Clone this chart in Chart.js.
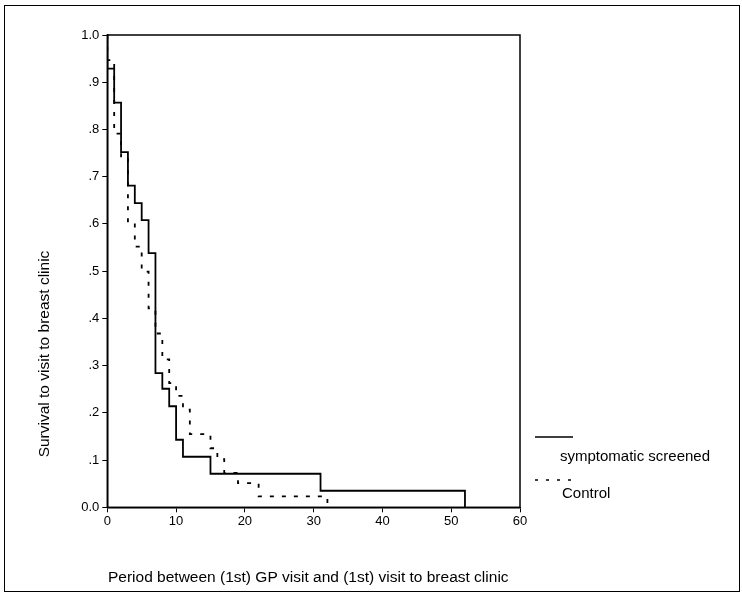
<!DOCTYPE html>
<html>
<head>
<meta charset="utf-8">
<script src="https://cdn.jsdelivr.net/npm/chart.js@4"></script>
<style>
  html, body { margin: 0; padding: 0; background: #fff; }
  #wrap { width: 742px; height: 596px; }
</style>
</head>
<body>
<div id="wrap"><canvas id="chart" width="742" height="596"></canvas></div>
<script>
// Kaplan-Meier step points: [time, survival] at each drop
const screenedTimes = [ 0, 0, 1, 2, 3, 4, 5, 6, 7, 8, 9, 10, 11, 15, 31, 52 ]
const screenedSurv  = [ 1, 0.929, 0.857, 0.752, 0.681, 0.644, 0.608, 0.538, 0.284, 0.251, 0.214, 0.143, 0.107, 0.071, 0.035, 0 ]

const controlTimes = [ 0, 0, 1, 2, 3, 4, 5, 6, 7, 8, 9, 10, 11, 12, 15, 16, 17, 19, 22, 32 ]
const controlSurv  = [ 1, 0.947, 0.791, 0.739, 0.603, 0.552, 0.499, 0.421, 0.368, 0.313, 0.263, 0.236, 0.207, 0.155, 0.125, 0.102, 0.073, 0.051, 0.023, 0 ]

const xTicks = [ 0, 10, 20, 30, 40, 50, 60 ]
const yTicks = [ 0, 0.1, 0.2, 0.3, 0.4, 0.5, 0.6, 0.7, 0.8, 0.9, 1.0 ]

const seriesNames = [ 'symptomatic screened', 'Control' ]
const xTitle = 'Period between (1st) GP visit and (1st) visit to breast clinic'
const yTitle = 'Survival to visit to breast clinic'

const FONT = '"Liberation Sans", Arial, sans-serif'

const toPoints = ( xs, ys ) => xs.map( ( x, i ) => ( { x: x, y: ys[ i ] } ) )

const extras = {
  id: 'extras',
  afterDraw( chart ) {
    const ctx = chart.ctx
    const a = chart.chartArea
    ctx.save()
    ctx.strokeStyle = '#000'
    ctx.fillStyle = '#000'

    // plot box
    ctx.lineWidth = 1.5
    ctx.strokeRect( a.left, a.top, a.right - a.left, a.bottom - a.top )

    // outer frame
    ctx.lineWidth = 1
    ctx.strokeRect( 4.5, 5.5, 735, 586 )

    // axis titles
    ctx.font = '15.5px ' + FONT
    ctx.textBaseline = 'middle'
    ctx.textAlign = 'left'
    ctx.fillText( xTitle, 108, 578 )

    ctx.save()
    ctx.translate( 45, 354 )
    ctx.rotate( -Math.PI / 2 )
    ctx.textAlign = 'center'
    ctx.fillText( yTitle, 0, 0 )
    ctx.restore()

    // legend
    ctx.lineWidth = 1.5
    ctx.beginPath()
    ctx.moveTo( 535, 437 )
    ctx.lineTo( 573, 437 )
    ctx.stroke()
    ctx.setLineDash( [ 3, 8 ] )
    ctx.beginPath()
    ctx.moveTo( 535, 480 )
    ctx.lineTo( 575, 480 )
    ctx.stroke()
    ctx.setLineDash( [] )
    ctx.font = '15px ' + FONT
    ctx.fillText( seriesNames[ 0 ], 560, 457 )
    ctx.fillText( seriesNames[ 1 ], 562, 494 )

    ctx.restore()
  }
}

new Chart( document.getElementById( 'chart' ), {
  type: 'scatter',
  data: {
    datasets: [
      {
        label: seriesNames[ 0 ],
        data: toPoints( screenedTimes, screenedSurv ),
        showLine: true,
        stepped: 'before',
        borderColor: '#000',
        borderWidth: 1.8,
        pointRadius: 0,
        fill: false
      },
      {
        label: seriesNames[ 1 ],
        data: toPoints( controlTimes, controlSurv ),
        showLine: true,
        stepped: 'before',
        borderColor: '#000',
        borderWidth: 1.8,
        borderDash: [ 4, 8 ],
        pointRadius: 0,
        fill: false
      }
    ]
  },
  options: {
    responsive: false,
    animation: false,
    devicePixelRatio: 1,
    layout: { padding: { left: 0, top: 35, right: 222, bottom: 0 } },
    plugins: {
      legend: { display: false },
      tooltip: { enabled: false }
    },
    scales: {
      x: {
        type: 'linear',
        min: 0,
        max: 60,
        afterBuildTicks: s => { s.ticks = xTicks.map( v => ( { value: v } ) ) },
        afterFit: s => { s.height = 88.7 },
        grid: { drawOnChartArea: false, tickLength: 5, color: '#000', tickColor: '#000' },
        border: { color: '#000', width: 1.5 },
        ticks: { color: '#000', font: { family: FONT, size: 13 }, padding: 1, maxRotation: 0 }
      },
      y: {
        type: 'linear',
        min: 0,
        max: 1,
        afterBuildTicks: s => { s.ticks = yTicks.map( v => ( { value: v } ) ) },
        afterFit: s => { s.width = 107.3 },
        grid: { drawOnChartArea: false, tickLength: 5, color: '#000', tickColor: '#000' },
        border: { color: '#000', width: 1.5 },
        ticks: {
          color: '#000',
          font: { family: FONT, size: 13 },
          padding: 3,
          callback: v => ( v === 0 || v === 1 ) ? v.toFixed( 1 ) : v.toFixed( 1 ).replace( /^0/, '' )
        }
      }
    }
  },
  plugins: [ extras ]
} )
</script>
</body>
</html>
